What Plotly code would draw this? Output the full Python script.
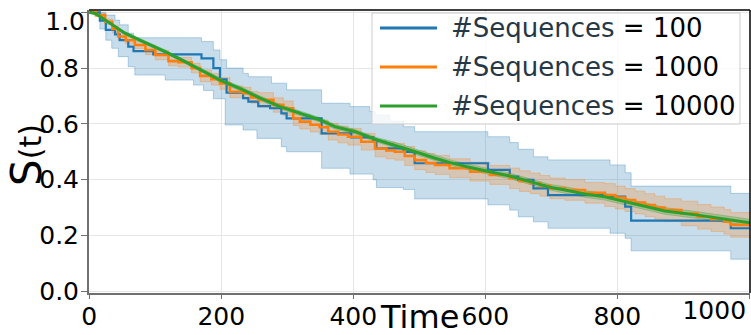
import plotly.graph_objects as go

# ---------------- data ----------------
# n = 100 : Kaplan-Meier step estimate and band
blue_t = [0, 16, 25, 39, 46, 59, 67, 97, 170, 188, 198, 208, 233, 241, 256, 274, 291, 299, 352, 397,
          430, 435, 476, 493, 604, 637, 650, 673, 695, 789, 812, 821, 972, 1000]
blue_s = [1.0, 0.97, 0.937, 0.921, 0.90, 0.877, 0.861, 0.849, 0.835, 0.80, 0.76, 0.712, 0.692, 0.68,
          0.664, 0.656, 0.638, 0.62, 0.566, 0.552, 0.536, 0.512, 0.50, 0.459, 0.435, 0.411, 0.399,
          0.369, 0.345, 0.339, 0.303, 0.253, 0.226, 0.226]
blue_hi_t = [0, 16, 25, 39, 46, 59, 67, 170, 188, 198, 208, 233, 241, 276, 299, 352, 395, 425, 433, 455,
             476, 493, 604, 637, 650, 673, 695, 789, 812, 821, 972, 1000]
blue_hi = [1.0, 1.0, 0.99, 0.972, 0.955, 0.925, 0.909, 0.895, 0.865, 0.83, 0.80, 0.781, 0.769, 0.746,
           0.722, 0.674, 0.662, 0.644, 0.632, 0.61, 0.59, 0.572, 0.554, 0.533, 0.509, 0.482, 0.471,
           0.453, 0.425, 0.377, 0.351, 0.351]
blue_lo_t = [0, 16, 25, 34, 44, 59, 69, 115, 158, 173, 188, 206, 233, 254, 291, 299, 352, 395, 430, 435,
             476, 493, 604, 637, 650, 673, 695, 789, 812, 821, 972, 1000]
blue_lo = [1.0, 0.94, 0.90, 0.871, 0.841, 0.805, 0.775, 0.757, 0.739, 0.72, 0.69, 0.596, 0.578, 0.548,
           0.518, 0.50, 0.441, 0.42, 0.40, 0.372, 0.365, 0.331, 0.31, 0.291, 0.267, 0.249, 0.226,
           0.208, 0.19, 0.145, 0.115, 0.115]

# n = 1000
orange_t = [0, 10, 24, 35, 44, 55, 69, 85, 100, 120, 135, 155, 168, 185, 198, 213, 233, 245, 256, 279,
            294, 309, 319, 335, 349, 362, 377, 392, 412, 433, 450, 463, 478, 493, 510, 524, 546, 577,
            607, 637, 652, 668, 683, 698, 721, 751, 781, 797, 812, 827, 842, 857, 872, 897, 922, 942,
            962, 972, 1000]
orange_s = [1.0, 0.99, 0.966, 0.94, 0.913, 0.90, 0.883, 0.865, 0.847, 0.825, 0.821, 0.80, 0.772, 0.76,
            0.745, 0.715, 0.71, 0.695, 0.686, 0.668, 0.656, 0.62, 0.608, 0.597, 0.588, 0.572, 0.562,
            0.554, 0.536, 0.512, 0.505, 0.50, 0.485, 0.47, 0.46, 0.453, 0.441, 0.429, 0.417, 0.405,
            0.395, 0.387, 0.378, 0.369, 0.363, 0.353, 0.345, 0.336, 0.327, 0.318, 0.309, 0.30, 0.291,
            0.279, 0.267, 0.258, 0.249, 0.238, 0.234]
orange_hi = [1.0, 0.995, 0.976, 0.953, 0.926, 0.913, 0.896, 0.882, 0.864, 0.842, 0.838, 0.817, 0.793,
             0.781, 0.766, 0.736, 0.731, 0.716, 0.712, 0.694, 0.682, 0.646, 0.634, 0.623, 0.614, 0.602,
             0.592, 0.584, 0.566, 0.542, 0.535, 0.53, 0.519, 0.504, 0.494, 0.487, 0.475, 0.463, 0.451,
             0.442, 0.432, 0.424, 0.415, 0.406, 0.40, 0.39, 0.386, 0.377, 0.368, 0.359, 0.35, 0.341,
             0.332, 0.323, 0.311, 0.302, 0.293, 0.282, 0.278]
orange_lo = [1.0, 0.985, 0.956, 0.927, 0.90, 0.887, 0.87, 0.848, 0.83, 0.808, 0.804, 0.783, 0.751,
             0.739, 0.724, 0.694, 0.689, 0.674, 0.66, 0.642, 0.63, 0.594, 0.582, 0.571, 0.562, 0.542,
             0.532, 0.524, 0.506, 0.482, 0.475, 0.47, 0.451, 0.436, 0.426, 0.419, 0.407, 0.395, 0.383,
             0.368, 0.358, 0.35, 0.341, 0.332, 0.326, 0.316, 0.304, 0.295, 0.286, 0.277, 0.268, 0.259,
             0.25, 0.235, 0.223, 0.214, 0.205, 0.194, 0.19]

# n = 10000
green_t = [0, 10, 24, 54, 84, 115, 145, 175, 198, 228, 259, 289, 319, 350, 372, 403, 433, 463, 494, 524,
           547, 577, 607, 637, 668, 698, 721, 751, 781, 812, 842, 872, 922, 972, 1001]
green_s = [1.0, 0.995, 0.972, 0.925, 0.892, 0.859, 0.823, 0.787, 0.757, 0.727, 0.692, 0.662, 0.638,
           0.614, 0.59, 0.572, 0.545, 0.524, 0.50, 0.477, 0.461, 0.444, 0.429, 0.413, 0.393, 0.373,
           0.363, 0.349, 0.339, 0.321, 0.303, 0.288, 0.273, 0.256, 0.246]
green_hi = [1.0, 0.998, 0.975, 0.931, 0.898, 0.865, 0.829, 0.793, 0.765, 0.735, 0.70, 0.67, 0.646,
            0.622, 0.598, 0.58, 0.553, 0.534, 0.51, 0.487, 0.471, 0.454, 0.439, 0.423, 0.403, 0.383,
            0.375, 0.361, 0.351, 0.333, 0.315, 0.30, 0.285, 0.268, 0.258]
green_lo = [1.0, 0.992, 0.969, 0.919, 0.886, 0.853, 0.817, 0.781, 0.749, 0.719, 0.684, 0.654, 0.63,
            0.606, 0.582, 0.564, 0.537, 0.514, 0.49, 0.467, 0.451, 0.434, 0.419, 0.403, 0.383, 0.363,
            0.351, 0.337, 0.327, 0.309, 0.291, 0.276, 0.261, 0.244, 0.234]

series_labels = ["100", "1000", "10000"]
x_ticks = [0, 200, 400, 600, 800, 1000]
y_ticks = [0.0, 0.2, 0.4, 0.6, 0.8, 1.0]

# ---------------- styling ----------------
BLUE, ORANGE, GREEN = "#1f77b4", "#ff7f0e", "#2ca02c"
FONT = "DejaVu Sans"
TICKSIZE = 25
X_RANGE = [-0.45, 1001.1]
Y_RANGE = [-0.0061, 1.0082]


def rgba(hexc, a):
    h = hexc.lstrip("#")
    return "rgba(%d,%d,%d,%s)" % (int(h[0:2], 16), int(h[2:4], 16), int(h[4:6], 16), a)


fig = go.Figure()


def add_band(t_lo, lo, t_hi, hi, color, shape):
    fig.add_trace(go.Scatter(x=t_lo, y=lo, mode="lines", showlegend=False, hoverinfo="skip",
                             line=dict(color=rgba(color, 0.3), width=1, shape=shape)))
    fig.add_trace(go.Scatter(x=t_hi, y=hi, mode="lines", showlegend=False, hoverinfo="skip",
                             fill="tonexty", fillcolor=rgba(color, 0.25),
                             line=dict(color=rgba(color, 0.3), width=1, shape=shape)))


add_band(blue_lo_t, blue_lo, blue_hi_t, blue_hi, BLUE, "hv")
add_band(orange_t, orange_lo, orange_t, orange_hi, ORANGE, "hv")
add_band(green_t, green_lo, green_t, green_hi, GREEN, "linear")

fig.add_trace(go.Scatter(x=blue_t, y=blue_s, mode="lines", showlegend=False,
                         line=dict(color=BLUE, width=2.2, shape="hv")))
fig.add_trace(go.Scatter(x=orange_t, y=orange_s, mode="lines", showlegend=False,
                         line=dict(color=ORANGE, width=2.6, shape="hv")))
fig.add_trace(go.Scatter(x=green_t, y=green_s, mode="lines", showlegend=False,
                         line=dict(color=GREEN, width=3)))
# empty traces so the overlay axes (edge tick labels) exist
fig.add_trace(go.Scatter(x=[], y=[], xaxis="x2", yaxis="y", showlegend=False, hoverinfo="skip"))
fig.add_trace(go.Scatter(x=[], y=[], xaxis="x", yaxis="y2", showlegend=False, hoverinfo="skip"))

# main axes: last label left empty; it is drawn by an overlay axis nudged inside the figure
x_text = [str(v) for v in x_ticks[:-1]] + [""]
y_text = ["%.1f" % v for v in y_ticks[:-1]] + [""]

tickfont = dict(family=FONT, size=TICKSIZE, color="black")
axis_common = dict(showgrid=True, gridcolor="#e6e6e6", gridwidth=1, zeroline=False,
                   showline=True, linecolor="#707070", linewidth=2, ticks="outside",
                   tickcolor="#707070", tickwidth=1, tickfont=tickfont, automargin=False)

fig.update_layout(
    width=751, height=335,
    margin=dict(l=89, r=1, t=10, b=42),
    plot_bgcolor="white", paper_bgcolor="white",
    showlegend=False,
    xaxis=dict(range=X_RANGE, tickvals=x_ticks, ticktext=x_text, ticklen=4,
               ticklabelstandoff=-4, **axis_common),
    yaxis=dict(range=Y_RANGE, tickvals=y_ticks, ticktext=y_text, ticklen=6,
               ticklabelstandoff=-3, **axis_common),
    xaxis2=dict(overlaying="x", anchor="y", side="bottom", range=X_RANGE, automargin=False,
                tickvals=[x_ticks[-1]], ticktext=[str(x_ticks[-1])], ticks="", ticklen=4,
                showgrid=False, showline=False, zeroline=False, tickfont=tickfont,
                ticklabelshift=-35, ticklabelstandoff=0, ticklabeloverflow="allow"),
    yaxis2=dict(overlaying="y", anchor="x", side="left", range=Y_RANGE, automargin=False,
                tickvals=[y_ticks[-1]], ticktext=["%.1f" % y_ticks[-1]], ticks="", ticklen=6,
                showgrid=False, showline=False, zeroline=False, tickfont=tickfont,
                ticklabelshift=9, ticklabelstandoff=3, ticklabeloverflow="allow"),
)

# top / right frame
shapes = [
    dict(type="line", xref="paper", yref="paper", x0=0, x1=1, y0=1, y1=1,
         line=dict(color="black", width=1.5), layer="above"),
    dict(type="line", xref="paper", yref="paper", x0=1, x1=1, y0=0, y1=1,
         line=dict(color="black", width=1.5), layer="above"),
]

# legend box
PW, PH, L, T = 661.0, 283.0, 89.0, 10.0


def px_x(p):
    return (p - L) / PW


def px_y(p):
    return (T + PH - p) / PH


shapes.append(dict(type="rect", xref="paper", yref="paper",
                   x0=px_x(372), x1=px_x(740), y0=px_y(124), y1=px_y(13),
                   fillcolor="rgba(255,255,255,0.8)", line=dict(color="#cccccc", width=1),
                   layer="above"))
annotations = []
for i, (col, lab) in enumerate(zip([BLUE, ORANGE, GREEN], series_labels)):
    yy = px_y(28 + 39 * i)
    shapes.append(dict(type="line", xref="paper", yref="paper", x0=px_x(380), x1=px_x(437),
                       y0=yy, y1=yy, line=dict(color=col, width=3), layer="above"))
    annotations.append(dict(xref="paper", yref="paper", x=px_x(449), y=yy, xanchor="left",
                            yanchor="middle", showarrow=False,
                            text="<span style='color:#263746'>#Sequences</span> = " + lab,
                            font=dict(family=FONT, size=26, color="black")))

# axis titles
annotations.append(dict(xref="paper", yref="paper", x=0.5, y=px_y(317), xanchor="center",
                        yanchor="middle", showarrow=False, text="Time",
                        font=dict(family=FONT, size=32, color="black")))
annotations.append(dict(xref="paper", yref="paper", x=px_x(26), y=px_y(155), xanchor="center",
                        yanchor="middle", showarrow=False, textangle=-90,
                        text="<span style='font-size:42px'>S</span>(t)",
                        font=dict(family=FONT, size=30, color="black")))

fig.update_layout(shapes=shapes, annotations=annotations)
fig.write_html("out.html")
